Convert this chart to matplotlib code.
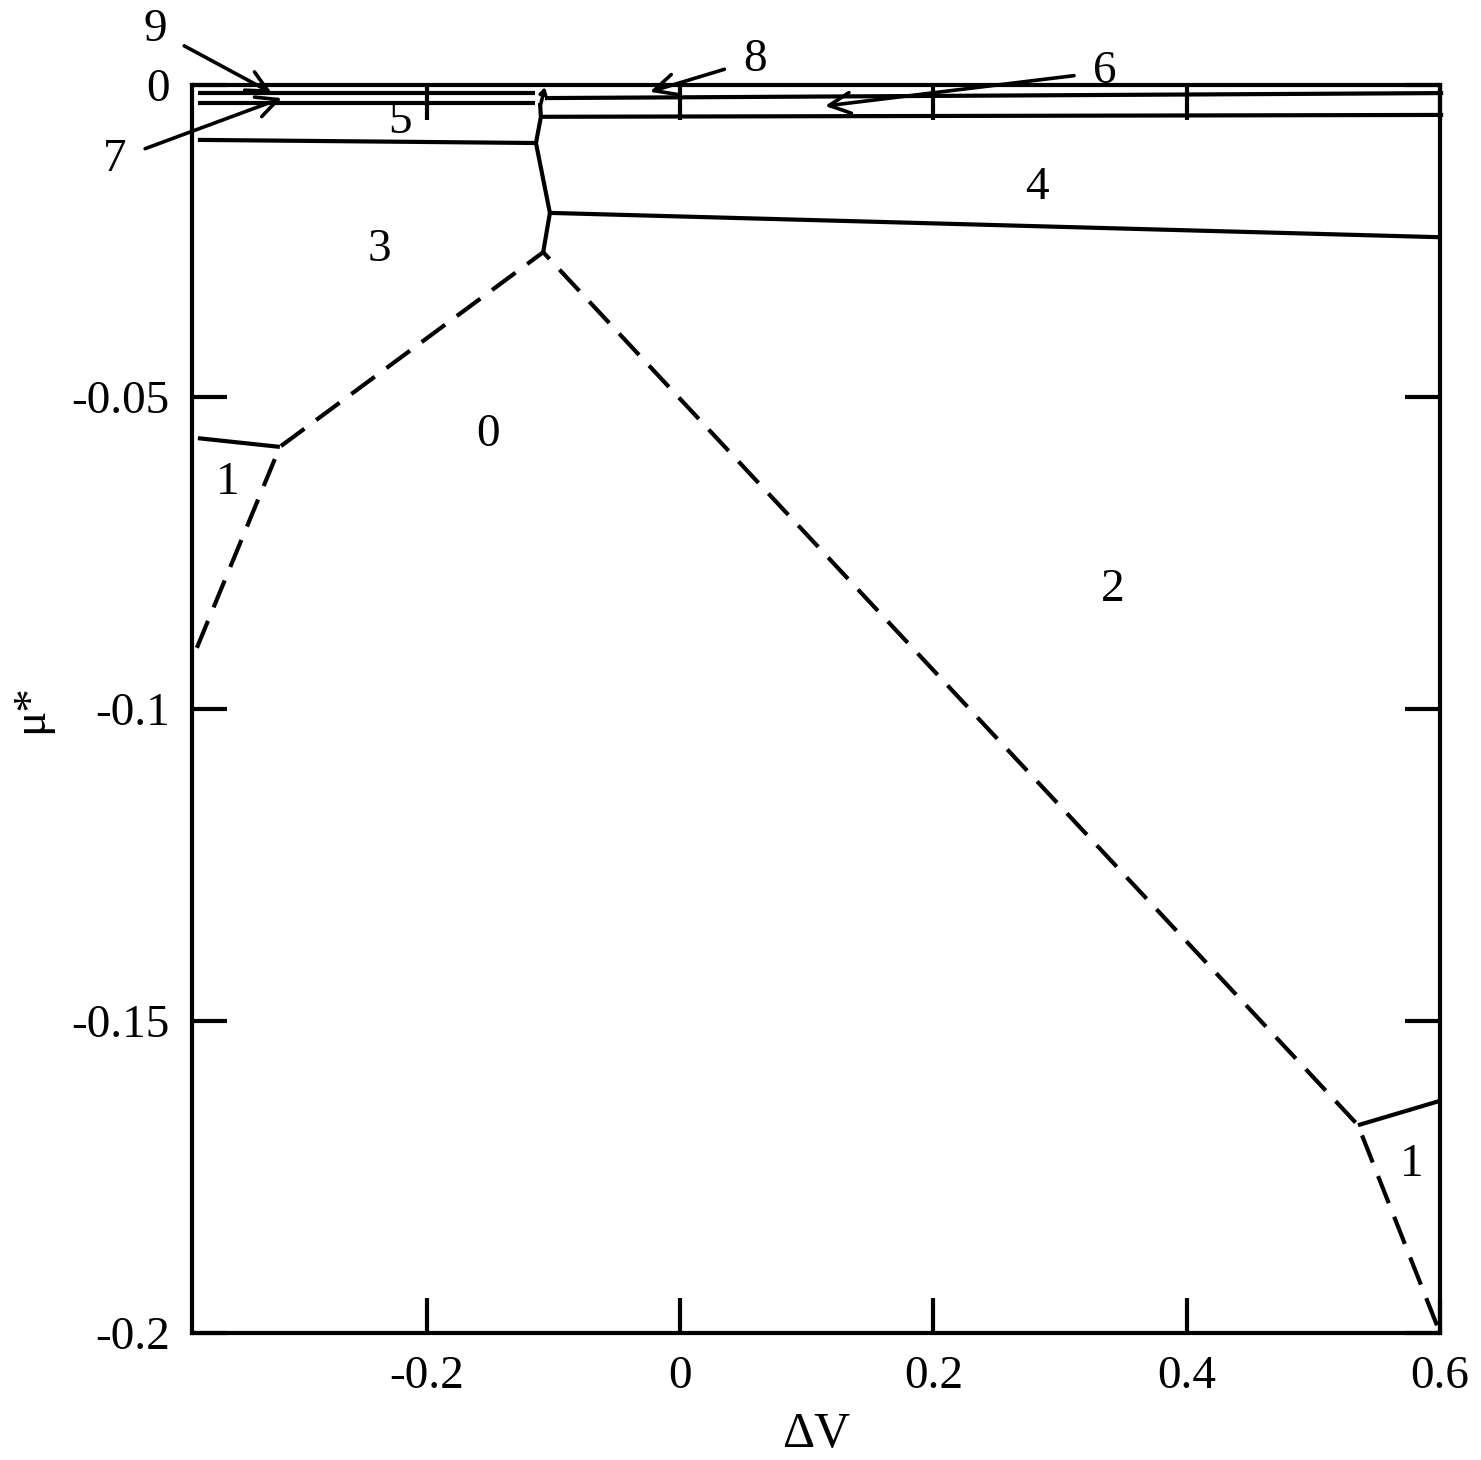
import matplotlib
matplotlib.use("Agg")
import matplotlib.pyplot as plt

plt.rcParams["font.family"] = ["Liberation Serif", "DejaVu Serif"]

# phase boundaries (Delta V, mu*)
top_a_x = [-0.3806, -0.1145]
top_a_y = [-0.0013, -0.0013]
top_b_x = [-0.3806, -0.1145]
top_b_y = [-0.0029, -0.0029]
top_c_x = [-0.1066, 0.6025]
top_c_y = [-0.0021, -0.0013]
top_d_x = [-0.1098, 0.6025]
top_d_y = [-0.0051, -0.0048]
b35_x = [-0.3806, -0.1137]
b35_y = [-0.0088, -0.0093]
chain_x = [-0.1080, -0.1027, -0.1137, -0.1098, -0.1105]
chain_y = [-0.0268, -0.0205, -0.0093, -0.0051, -0.0029]
b34_x = [-0.1027, 0.6]
b34_y = [-0.0205, -0.0244]
b1l_x = [-0.3806, -0.3159]
b1l_y = [-0.0566, -0.0580]
b1r_x = [0.5353, 0.6]
b1r_y = [-0.1667, -0.1628]
dash_x = [-0.3814, -0.3159, -0.1080, 0.5353, 0.6]
dash_y = [-0.0902, -0.0580, -0.0268, -0.1667, -0.2]

# region labels
region_text = ["5", "3", "4", "0", "2", "1", "1"]
region_x = [-0.2211, -0.2369, 0.2819, -0.1516, 0.3419, -0.3569, 0.578]
region_y = [-0.0059, -0.0264, -0.0165, -0.0561, -0.0809, -0.0638, -0.1731]

# arrow labels: text, text pos, target
arrow_text = ["9", "7", "8", "6"]
arrow_tx = [-0.4145, -0.4461, 0.0592, 0.3356]
arrow_ty = [0.0088, -0.0120, 0.0040, 0.0021]
arrow_px = [-0.3222, -0.3143, -0.0237, 0.1145]
arrow_py = [-0.0013, -0.0021, -0.0011, -0.00337]

fig = plt.figure(figsize=(14.81, 14.60), dpi=100)
ax = fig.add_axes([0.1296, 0.0870, 0.8427, 0.8548])

lw = 3.0
solid = [(top_a_x, top_a_y), (top_b_x, top_b_y), (top_c_x, top_c_y),
         (top_d_x, top_d_y), (b35_x, b35_y), (chain_x, chain_y),
         (b34_x, b34_y), (b1l_x, b1l_y), (b1r_x, b1r_y)]
for xs, ys in solid:
    ax.plot(xs, ys, color="black", lw=lw, solid_capstyle="butt", clip_on=False)
ax.plot(dash_x, dash_y, color="black", lw=lw, dashes=(7, 3.5), dash_capstyle="butt")

fs = 34
for t, x, y in zip(region_text, region_x, region_y):
    ax.text(x, y, t, fontsize=fs, ha="center", va="center")

for t, tx, ty, px, py in zip(arrow_text, arrow_tx, arrow_ty, arrow_px, arrow_py):
    ax.annotate(t, xy=(px, py), xytext=(tx, ty), fontsize=fs, ha="center", va="center",
                annotation_clip=False,
                arrowprops=dict(arrowstyle="->,head_length=0.45,head_width=0.22", color="black",
                                lw=2.6, shrinkA=12, shrinkB=0))
# small arrow at the top of the 3/5 boundary
ax.annotate("", xy=(-0.1066, -0.0003), xytext=(-0.1098, -0.0030),
            arrowprops=dict(arrowstyle="->,head_length=0.35,head_width=0.2", color="black",
                            lw=2.6, shrinkA=0, shrinkB=0))

ax.set_xlim(-0.3853, 0.6)
ax.set_ylim(-0.2, 0)
ax.set_xticks([-0.2, 0, 0.2, 0.4, 0.6])
ax.set_xticklabels(["-0.2", "0", "0.2", "0.4", "0.6"])
ax.set_yticks([-0.2, -0.15, -0.1, -0.05, 0])
ax.set_yticklabels(["-0.2", "-0.15", "-0.1", "-0.05", "0"])
ax.tick_params(axis="both", direction="in", length=25, width=3.0, labelsize=fs,
               top=True, right=True, pad=16)
for s in ax.spines.values():
    s.set_linewidth(3.0)

ax.set_xlabel("ΔV", fontsize=36, labelpad=10)
ax.set_ylabel("μ*", fontsize=34, labelpad=14)

fig.savefig("out.png", dpi=100, facecolor="white")
